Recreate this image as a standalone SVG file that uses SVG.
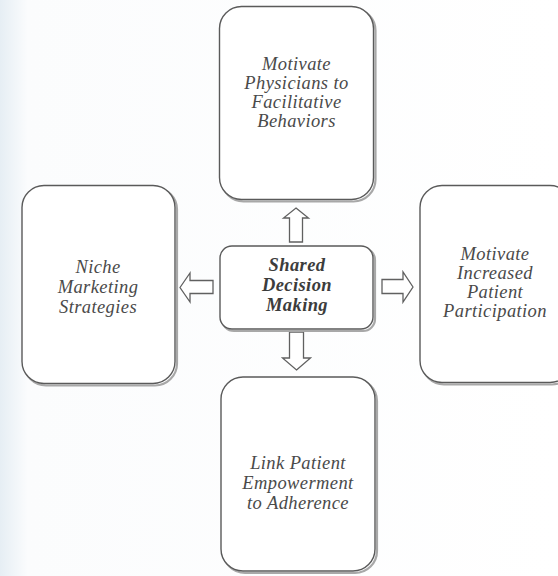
<svg xmlns="http://www.w3.org/2000/svg" width="558" height="576" viewBox="0 0 558 576">
  <defs>
    <linearGradient id="bg" x1="0" y1="0" x2="1" y2="0">
      <stop offset="0" stop-color="#e6eef4"/>
      <stop offset="0.05" stop-color="#fbfcfd"/>
      <stop offset="1" stop-color="#ffffff"/>
    </linearGradient>
  </defs>
  <style>
    .shadow { fill: none; stroke: #a8a8a8; stroke-width: 2.2; }
    .box { fill: #ffffff; stroke: #5a5a5a; stroke-width: 1.4; }
    .arrow { fill: #ffffff; stroke: #606060; stroke-width: 1.3; stroke-linejoin: miter; }
    .lbl { font-family: "Liberation Serif", "Times New Roman", serif; font-style: italic; font-size: 18.5px; letter-spacing: 0.4px; fill: #4a4a4a; text-anchor: middle; }
    .main { font-weight: bold; fill: #3c3c3c; }
  </style>
  <rect x="0" y="0" width="558" height="576" fill="url(#bg)"/>

  <g id="connectors">
    <path class="arrow" d="M296,208 L308.5,218 L302.5,218 L302.5,242 L289.5,242 L289.5,218 L283.5,218 Z"/>
    <path class="arrow" d="M296.5,370 L310.5,358 L303.5,358 L303.5,332 L289.5,332 L289.5,358 L282.5,358 Z"/>
    <path class="arrow" d="M180,287.5 L190,273 L190,280.5 L213,280.5 L213,293.5 L190,293.5 L190,302 Z"/>
    <path class="arrow" d="M413,287 L403,272 L403,279.5 L382,279.5 L382,293.5 L403,293.5 L403,302 Z"/>
  </g>

  <g id="node-top">
    <rect class="shadow" x="221.5" y="8.5" width="154" height="193" rx="22"/>
    <rect class="box" x="219.5" y="6.5" width="154" height="193" rx="22"/>
    <text class="lbl" x="296.5" y="70">Motivate</text>
    <text class="lbl" x="296.5" y="89">Physicians to</text>
    <text class="lbl" x="296.5" y="108">Facilitative</text>
    <text class="lbl" x="296.5" y="127">Behaviors</text>
  </g>

  <g id="node-left">
    <rect class="shadow" x="24" y="187.5" width="153" height="198" rx="22"/>
    <rect class="box" x="22" y="185.5" width="153" height="198" rx="22"/>
    <text class="lbl" x="98" y="273">Niche</text>
    <text class="lbl" x="98" y="293">Marketing</text>
    <text class="lbl" x="98" y="313">Strategies</text>
  </g>

  <g id="node-center">
    <rect class="shadow" x="222" y="248" width="153" height="83" rx="12"/>
    <rect class="box" x="220" y="246" width="153" height="83" rx="12"/>
    <text class="lbl main" x="297" y="271">Shared</text>
    <text class="lbl main" x="297" y="291">Decision</text>
    <text class="lbl main" x="297" y="311">Making</text>
  </g>

  <g id="node-right">
    <rect class="shadow" x="422" y="187.5" width="152" height="197" rx="22"/>
    <rect class="box" x="420" y="185.5" width="152" height="197" rx="22"/>
    <text class="lbl" x="495" y="260">Motivate</text>
    <text class="lbl" x="495" y="279">Increased</text>
    <text class="lbl" x="495" y="298">Patient</text>
    <text class="lbl" x="495" y="317">Participation</text>
  </g>

  <g id="node-bottom">
    <rect class="shadow" x="223" y="379" width="154" height="194" rx="22"/>
    <rect class="box" x="221" y="377" width="154" height="194" rx="22"/>
    <text class="lbl" x="298" y="469">Link Patient</text>
    <text class="lbl" x="298" y="489">Empowerment</text>
    <text class="lbl" x="298" y="509">to Adherence</text>
  </g>
</svg>
